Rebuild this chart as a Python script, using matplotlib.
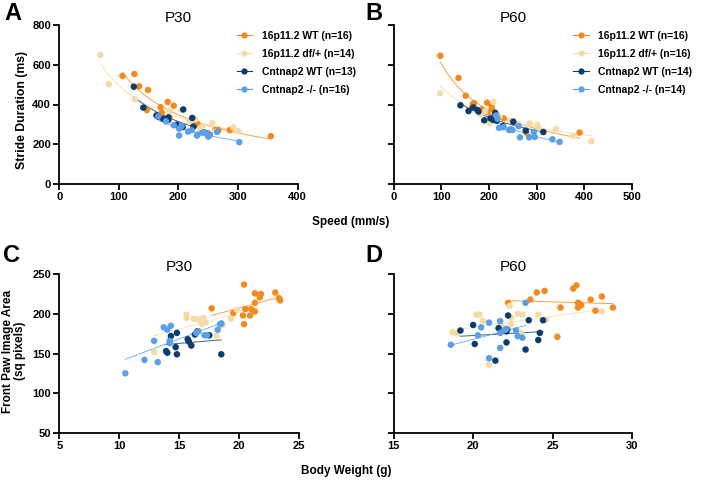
import numpy as np
import matplotlib
matplotlib.use("Agg")
import matplotlib.pyplot as plt
from matplotlib.lines import Line2D

plt.rcParams['font.family'] = ['Liberation Sans', 'DejaVu Sans']

series_names = ["16p11.2 WT", "16p11.2 df/+", "Cntnap2 WT", "Cntnap2 -/-"]
colors = ["#F28A1E", "#F5DBA6", "#0B3C6E", "#5AA0E8"]

# Panel A: P30 speed vs stride duration
a_wt_x = [106, 126, 134, 149, 147, 170, 172, 182, 192, 185, 224, 232, 262, 267, 286, 355]
a_wt_y = [544, 554, 492, 473, 372, 386, 359, 413, 394, 333, 313, 302, 271, 271, 271, 240]
a_df_x = [69, 83, 127, 186, 205, 218, 228, 236, 257, 292, 222, 240, 262, 300]
a_df_y = [650, 502, 426, 369, 371, 313, 325, 280, 305, 285, 318, 290, 262, 265]
a_cw_x = [125, 141, 163, 166, 174, 183, 183, 197, 207, 208, 223, 225, 252]
a_cw_y = [490, 384, 345, 338, 328, 335, 322, 298, 286, 375, 332, 288, 246]
a_ko_x = [166, 179, 192, 201, 201, 205, 216, 222, 231, 232, 240, 245, 250, 252, 265, 302]
a_ko_y = [340, 315, 295, 278, 243, 290, 263, 270, 243, 248, 258, 255, 238, 244, 262, 210]

# Panel B: P60 speed vs stride duration
b_wt_x = [98, 136, 151, 166, 169, 164, 185, 197, 196, 205, 206, 209, 231, 250, 278, 390]
b_wt_y = [646, 534, 444, 404, 407, 384, 375, 360, 409, 396, 379, 342, 330, 313, 258, 258]
b_df_x = [97, 172, 182, 192, 201, 209, 215, 222, 244, 262, 286, 301, 304, 340, 377, 415]
b_df_y = [456, 378, 350, 365, 308, 413, 347, 340, 318, 300, 305, 298, 283, 276, 241, 214]
b_cw_x = [140, 157, 167, 176, 178, 190, 203, 209, 213, 216, 229, 251, 277, 314]
b_cw_y = [396, 367, 385, 372, 364, 320, 330, 322, 358, 318, 291, 313, 268, 261]
b_ko_x = [215, 218, 221, 230, 242, 246, 249, 262, 265, 284, 294, 296, 333, 348]
b_ko_y = [345, 328, 282, 285, 271, 275, 271, 291, 234, 234, 261, 236, 224, 211]

# Panel C: P30 body weight vs paw area
c_wt_x = [17.7, 19.5, 20.3, 20.4, 20.4, 20.5, 20.9, 21.0, 21.3, 21.3, 21.3, 21.7, 21.8, 23.0, 23.3, 23.4]
c_wt_y = [207, 201, 198, 187, 237, 206, 198, 206, 203, 214, 226, 221, 225, 227, 220, 217]
c_df_x = [12.9, 15.6, 15.6, 16.2, 16.6, 17.0, 17.0, 16.9, 17.2, 18.1, 18.6, 19.3, 19.8, 16.8]
c_df_y = [152, 199, 195, 194, 193, 195, 191, 187, 189, 172, 186, 194, 205, 193]
c_cw_x = [13.9, 14.0, 14.3, 14.7, 14.8, 14.8, 15.7, 15.8, 16.0, 16.3, 16.5, 17.5, 18.5]
c_cw_y = [153, 151, 172, 158, 176, 149, 168, 165, 160, 174, 178, 173, 149]
c_ko_x = [10.5, 12.1, 12.9, 13.2, 13.7, 14.0, 14.2, 14.2, 14.3, 16.4, 16.6, 17.1, 17.3, 18.2, 18.4, 18.5]
c_ko_y = [125, 142, 166, 139, 183, 180, 166, 163, 185, 176, 178, 173, 173, 180, 187, 188]

# Panel D: P60 body weight vs paw area
d_wt_x = [22.2, 23.6, 24.0, 24.5, 25.5, 25.3, 26.3, 26.5, 26.6, 26.7, 26.6, 26.8, 27.4, 27.7, 28.1, 28.8]
d_wt_y = [214, 218, 227, 229, 208, 171, 232, 236, 214, 213, 208, 211, 218, 204, 222, 208]
d_df_x = [18.7, 19.0, 20.2, 20.4, 20.6, 21.0, 21.8, 22.3, 22.4, 22.4, 22.8, 23.1, 23.0, 24.1, 24.6, 28.1]
d_df_y = [177, 175, 199, 199, 191, 136, 185, 210, 195, 187, 200, 199, 176, 199, 192, 203]
d_cw_x = [19.2, 20.0, 20.1, 21.4, 21.6, 22.1, 22.1, 22.2, 23.3, 23.5, 24.1, 24.2, 24.4, 22.15]
d_cw_y = [179, 186, 162, 141, 182, 178, 164, 198, 155, 192, 167, 176, 192, 180]
d_ko_x = [18.6, 20.3, 20.5, 21.0, 21.0, 21.7, 21.7, 21.7, 22.1, 22.7, 22.8, 23.1, 23.3, 22.0]
d_ko_y = [161, 173, 183, 189, 144, 191, 176, 157, 181, 179, 172, 170, 214, 180]

legend_A = ["16p11.2 WT (n=16)", "16p11.2 df/+ (n=14)", "Cntnap2 WT (n=13)", "Cntnap2 -/- (n=16)"]
legend_B = ["16p11.2 WT (n=16)", "16p11.2 df/+ (n=16)", "Cntnap2 WT (n=14)", "Cntnap2 -/- (n=14)"]

W, H = 705, 482
fig = plt.figure(figsize=(W / 100, H / 100), dpi=100)

def ax_at(x0, y0, x1, y1):
    return fig.add_axes([x0 / W, 1 - y1 / H, (x1 - x0) / W, (y1 - y0) / H])

axA = ax_at(59.3, 25.3, 297.7, 183.7)
axB = ax_at(393.7, 25.3, 632.0, 183.7)
axC = ax_at(59.3, 274.3, 299.3, 432.7)
axD = ax_at(393.7, 274.3, 632.0, 432.7)

def style(ax):
    for s in ["top", "right"]:
        ax.spines[s].set_visible(False)
    for s in ["left", "bottom"]:
        ax.spines[s].set_linewidth(1.3)
    ax.tick_params(direction="out", length=4, width=1.3, labelsize=8, pad=2)
    for lab in ax.get_xticklabels() + ax.get_yticklabels():
        lab.set_fontweight("bold")

def draw(ax, data, kind):
    for (x, y), c in zip(data, colors):
        x = np.asarray(x, float)
        y = np.asarray(y, float)
        xs = np.linspace(x.min(), x.max(), 100)
        if kind == "power":
            b, a = np.polyfit(np.log(x), np.log(y), 1)
            ys = np.exp(a) * xs ** b
        else:
            b, a = np.polyfit(x, y, 1)
            ys = a + b * xs
        ax.plot(xs, ys, color=c, lw=0.7, alpha=0.8, zorder=2)
        ax.scatter(x, y, s=22, color=c, edgecolors="none", zorder=3)

draw(axA, [(a_wt_x, a_wt_y), (a_df_x, a_df_y), (a_cw_x, a_cw_y), (a_ko_x, a_ko_y)], "power")
draw(axB, [(b_wt_x, b_wt_y), (b_df_x, b_df_y), (b_cw_x, b_cw_y), (b_ko_x, b_ko_y)], "power")
draw(axC, [(c_wt_x, c_wt_y), (c_df_x, c_df_y), (c_cw_x, c_cw_y), (c_ko_x, c_ko_y)], "linear")
draw(axD, [(d_wt_x, d_wt_y), (d_df_x, d_df_y), (d_cw_x, d_cw_y), (d_ko_x, d_ko_y)], "linear")

axA.set_xlim(0, 400); axA.set_ylim(0, 800)
axA.set_xticks([0, 100, 200, 300, 400]); axA.set_yticks([0, 200, 400, 600, 800])
axB.set_xlim(0, 500); axB.set_ylim(0, 800)
axB.set_xticks([0, 100, 200, 300, 400, 500]); axB.set_yticks([0, 200, 400, 600, 800])
axB.set_yticklabels([])
axC.set_xlim(5, 25); axC.set_ylim(50, 250)
axC.set_xticks([5, 10, 15, 20, 25]); axC.set_yticks([50, 100, 150, 200, 250])
axD.set_xlim(15, 30); axD.set_ylim(50, 250)
axD.set_xticks([15, 20, 25, 30]); axD.set_yticks([50, 100, 150, 200, 250])
axD.set_yticklabels([])

for ax in (axA, axB, axC, axD):
    style(ax)

def legend(ax, labels, x_anchor):
    hs = [Line2D([0], [0], color=c, lw=0.8, marker="o", markersize=4.5,
                 markeredgewidth=0) for c in colors]
    leg = ax.legend(hs, labels, loc="upper left", bbox_to_anchor=(x_anchor, 0.98),
                    frameon=False, fontsize=7.5, handlelength=1.5, handletextpad=0.9,
                    labelspacing=0.78, borderaxespad=0, borderpad=0.2)
    for t in leg.get_texts():
        t.set_fontweight("bold")

legend(axA, legend_A, 0.735)
legend(axB, legend_B, 0.745)

for ax, t in [(axA, "P30"), (axB, "P60"), (axC, "P30"), (axD, "P60")]:
    ax.set_title(t, fontsize=11, pad=2)

for lx, ly, t in [(13, 14, "A"), (374, 14, "B"), (12, 255, "C"), (374, 255, "D")]:
    fig.text(lx / W, 1 - ly / H, t, fontsize=17, fontweight="bold",
             ha="center", va="center")

fig.text(351 / W, 1 - 222 / H, "Speed (mm/s)", fontsize=8.5, fontweight="bold",
         ha="center", va="center")
fig.text(346 / W, 1 - 471 / H, "Body Weight (g)", fontsize=8.5, fontweight="bold",
         ha="center", va="center")
fig.text(22 / W, 1 - 110 / H, "Stride Duration (ms)", fontsize=8.8, fontweight="bold",
         ha="center", va="center", rotation=90)
fig.text(14 / W, 1 - 351 / H, "Front Paw Image Area\n(sq pixels)", fontsize=8.5,
         fontweight="bold", ha="center", va="center", rotation=90, linespacing=1.1)

fig.savefig("out.png", dpi=100)
